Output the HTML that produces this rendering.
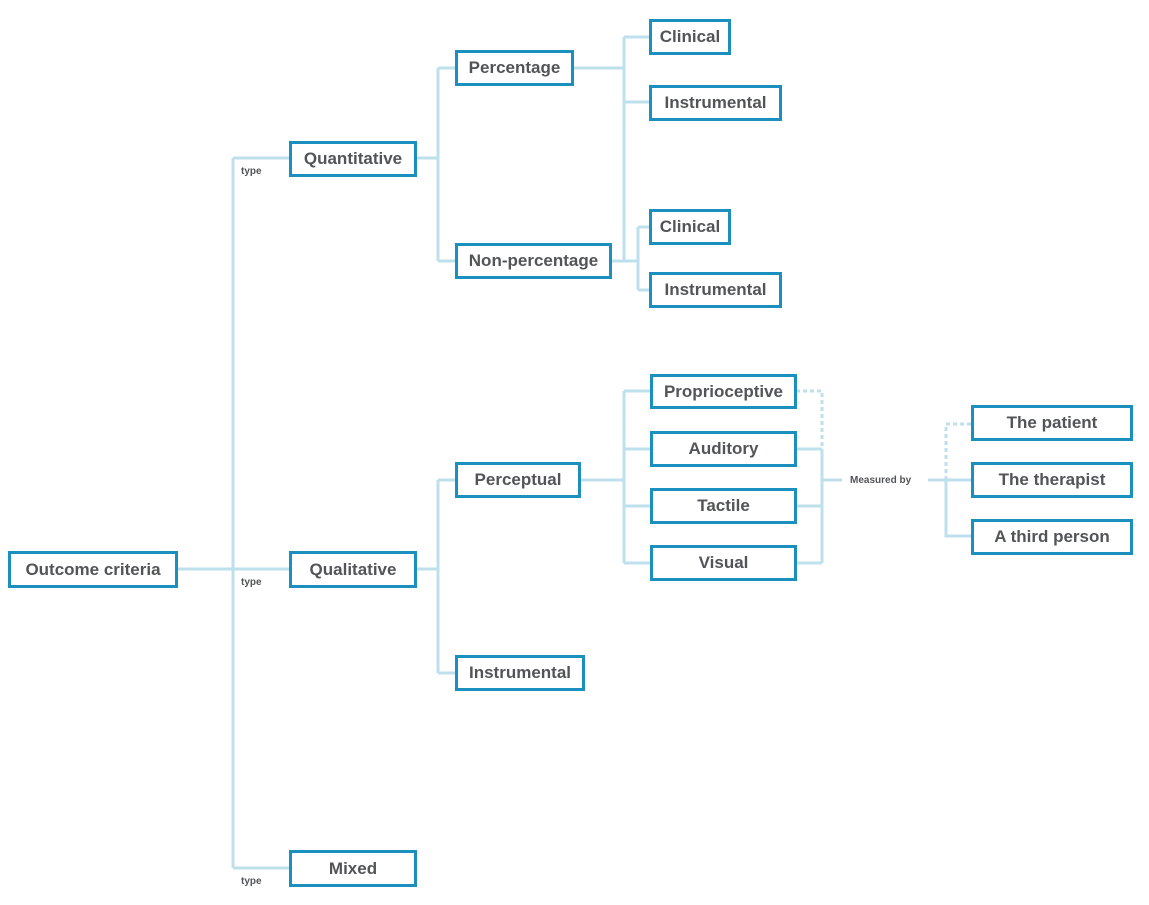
<!DOCTYPE html>
<html><head><meta charset="utf-8"><style>
body{margin:0;width:1149px;height:905px;background:#fff;position:relative;overflow:hidden;font-family:"Liberation Sans",sans-serif}
.b{position:absolute;box-sizing:border-box;border:3px solid #1b8fbd;background:#fff;color:#525458;font-weight:bold;font-size:17px;display:flex;align-items:center;justify-content:center;white-space:nowrap}
.t{position:absolute;font-size:10px;font-weight:bold;color:#525458}
svg{position:absolute;left:0;top:0}
</style></head><body>
<svg width="1149" height="905" fill="none" stroke="#bde0ec" stroke-width="3">
<path d="M177 569H289M233 158V868M233 158H289M233 868H289"/>
<path d="M416 158H438M438 68V261M438 68H455M438 261H455"/>
<path d="M573 68H624M624 37V261M624 37H649M624 102H649M611 261H638M638 227V290M638 227H649M638 290H649"/>
<path d="M416 569H438M438 480V673M438 480H455M438 673H455"/>
<path d="M580 480H624M624 391V563M624 391H650M624 449H650M624 506H650M624 563H650"/>
<path d="M796 449H822M796 506H822M796 563H822M822 449V563M822 480H842"/>
<path d="M796 391H822V449" stroke-dasharray="4 3"/>
<path d="M928 480H971M946 480V536H971"/>
<path d="M946 480V424H971" stroke-dasharray="4 3"/>
</svg>
<div class="t" style="left:241px;top:166px">type</div>
<div class="t" style="left:241px;top:577px">type</div>
<div class="t" style="left:241px;top:876px">type</div>
<div class="t" style="left:850px;top:475px">Measured by</div>
<div class="b" style="left:8px;top:551px;width:170px;height:37px">Outcome criteria</div>
<div class="b" style="left:289px;top:141px;width:128px;height:36px">Quantitative</div>
<div class="b" style="left:289px;top:551px;width:128px;height:37px">Qualitative</div>
<div class="b" style="left:289px;top:850px;width:128px;height:37px">Mixed</div>
<div class="b" style="left:455px;top:50px;width:119px;height:36px">Percentage</div>
<div class="b" style="left:455px;top:243px;width:157px;height:36px">Non-percentage</div>
<div class="b" style="left:649px;top:19px;width:82px;height:36px">Clinical</div>
<div class="b" style="left:649px;top:85px;width:133px;height:36px">Instrumental</div>
<div class="b" style="left:649px;top:209px;width:82px;height:36px">Clinical</div>
<div class="b" style="left:649px;top:272px;width:133px;height:36px">Instrumental</div>
<div class="b" style="left:455px;top:462px;width:126px;height:36px">Perceptual</div>
<div class="b" style="left:455px;top:655px;width:130px;height:36px">Instrumental</div>
<div class="b" style="left:650px;top:374px;width:147px;height:35px">Proprioceptive</div>
<div class="b" style="left:650px;top:431px;width:147px;height:36px">Auditory</div>
<div class="b" style="left:650px;top:488px;width:147px;height:36px">Tactile</div>
<div class="b" style="left:650px;top:545px;width:147px;height:36px">Visual</div>
<div class="b" style="left:971px;top:405px;width:162px;height:36px">The patient</div>
<div class="b" style="left:971px;top:462px;width:162px;height:36px">The therapist</div>
<div class="b" style="left:971px;top:519px;width:162px;height:36px">A third person</div>
</body></html>
